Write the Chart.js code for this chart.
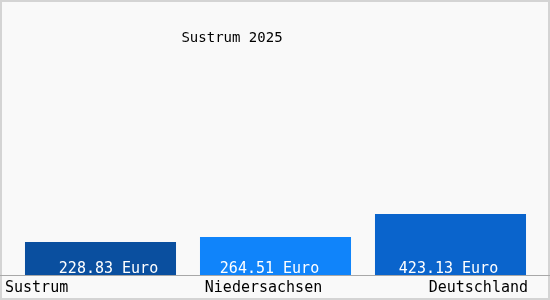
<!DOCTYPE html>
<html><head><meta charset="utf-8">
<script src="https://cdn.jsdelivr.net/npm/chart.js@4"></script>
<style>html,body{margin:0;padding:0;background:#fff}canvas{display:block}</style>
</head><body>
<canvas id="c" width="550" height="300"></canvas>
<script>
const categories = ["Sustrum", "Niedersachsen", "Deutschland"];
const values = [228.83, 264.51, 423.13];
const valueLabels = ["228.83 Euro", "264.51 Euro", "423.13 Euro"];
const barColors = ["#0a4f9f", "#1084fa", "#0a64cc"];
const titleText = "Sustrum 2025";

const FONT = "15px 'DejaVu Sans Mono'";
const TITLE_FONT = "14px 'DejaVu Sans Mono'";

const deco = {
  id: 'deco',
  beforeDraw(chart) {
    const c = chart.ctx;
    c.save();
    c.fillStyle = '#f9f9f9';
    c.fillRect(0, 0, chart.width, chart.height);
    c.strokeStyle = '#d4d4d4';
    c.lineWidth = 2;
    c.strokeRect(1, 1, chart.width - 2, chart.height - 2);
    c.restore();
  },
  afterDatasetsDraw(chart) {
    const c = chart.ctx;
    const xs = chart.scales.x, ys = chart.scales.y;
    const y0 = ys.getPixelForValue(0);
    c.save();
    c.strokeStyle = '#a8a8a8';
    c.lineWidth = 1;
    c.beginPath();
    c.moveTo(0, Math.round(y0) + 0.5);
    c.lineTo(chart.width, Math.round(y0) + 0.5);
    c.stroke();
    c.font = FONT;
    c.textBaseline = 'middle';
    const vOff = [8, -6, -2];
    c.fillStyle = '#ffffff';
    c.textAlign = 'center';
    valueLabels.forEach((t, i) => {
      c.fillText(t, xs.getPixelForValue(i) + vOff[i], y0 - 6);
    });
    c.fillStyle = '#000000';
    const n = categories.length;
    categories.forEach((t, i) => {
      let x = xs.getPixelForValue(i);
      if (i === 0) { c.textAlign = 'left'; x = 5; }
      else if (i === n - 1) { c.textAlign = 'right'; x = xs.right - 10; }
      else { c.textAlign = 'center'; x = x - 12; }
      c.fillText(t, x, y0 + 13);
    });
    c.font = TITLE_FONT;
    c.textAlign = 'center';
    c.fillText(titleText, 232, 38);
    c.restore();
  }
};

new Chart(document.getElementById('c'), {
  type: 'bar',
  data: {
    labels: categories,
    datasets: [{
      data: values,
      backgroundColor: barColors,
      borderWidth: 0,
      barPercentage: 0.863,
      categoryPercentage: 1.0
    }]
  },
  options: {
    responsive: false,
    devicePixelRatio: 1,
    animation: false,
    layout: { padding: { left: 13, right: 12, top: 75, bottom: 25 } },
    plugins: { legend: { display: false }, title: { display: false }, tooltip: { enabled: false } },
    scales: {
      x: { display: false },
      y: { display: false, min: 0, max: 1388 }
    }
  },
  plugins: [deco]
});
</script>
</body></html>
